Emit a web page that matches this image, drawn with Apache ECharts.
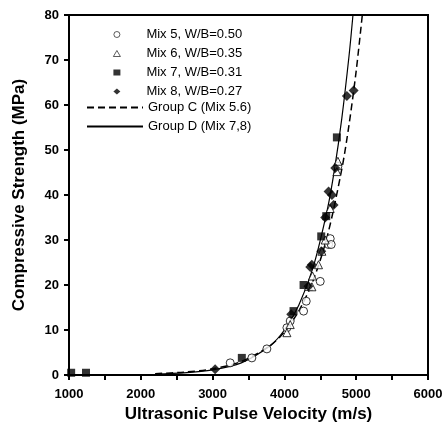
<!DOCTYPE html>
<html>
<head>
<meta charset="utf-8">
<script src="https://cdn.jsdelivr.net/npm/echarts@6/dist/echarts.min.js"></script>
<style>html,body{margin:0;padding:0;background:#fff}#c{width:448px;height:428px}</style>
</head>
<body>
<div id="c"></div>
<script>
// Data
var mix5 = [[3245,2.7],[3547,3.8],[3756,5.8],[4035,10.5],[4081,12],[4267,14.2],[4304,16.4],[4499,20.8],[4615,29],[4638,30.3],[4652,29],[4745,46.4]];
var mix6 = [[4035,9.4],[4081,11.2],[4336,19.7],[4392,22],[4475,24.5],[4522,27.5],[4568,30],[4638,37],[4731,45.2],[4745,47.5],[4383,19.6]];
var mix7 = [[1030,0.5],[1237,0.5],[3407,3.8],[4127,14.2],[4267,20],[4513,30.8],[4583,35.3],[4731,52.8]];
var mix8 = [[3035,1.3],[4095,13.5],[4335,19.7],[4360,24],[4382,24.5],[4513,27.5],[4568,35],[4615,40.8],[4662,40],[4685,37.8],[4708,46],[4870,62],[4964,63.2]];
var groupC = [[2200,0.3],[2600,0.63],[3000,1.37],[3400,3.0],[3800,6.5],[4000,9.6],[4200,14.2],[4400,21],[4600,31],[4800,45.8],[4900,55.6],[5000,67.6],[5085,80]];
var groupD = [[2200,0.2],[2600,0.47],[3000,1.13],[3400,2.7],[3800,6.5],[4000,10],[4200,15.5],[4400,23.9],[4600,36.9],[4700,45.9],[4800,57.1],[4900,70.9],[4955,80]];
var names = ['Mix 5, W/B=0.50','Mix 6, W/B=0.35','Mix 7, W/B=0.31','Mix 8, W/B=0.27','Group C (Mix 5.6)','Group D (Mix 7,8)'];

var font = '"Liberation Sans", Arial, sans-serif';
var chart = echarts.init(document.getElementById('c'), null, {renderer:'canvas'});
chart.setOption({
  animation:false,
  backgroundColor:'#fff',
  grid:{left:69,right:20,top:15,bottom:52,show:true,borderColor:'#000',borderWidth:2,backgroundColor:'transparent'},
  legend:[{
    orient:'vertical', left:108, top:23, itemWidth:7, itemHeight:6, itemGap:6,
    textStyle:{fontFamily:font,fontSize:13,color:'#000',lineHeight:12,padding:[0,0,0,21]},
    itemStyle:{borderWidth:0.8},
    data:[
      {name:names[0],icon:'circle'},
      {name:names[1],icon:'triangle'},
      {name:names[2],icon:'rect'},
      {name:names[3],icon:'diamond'}
    ]
  },{
    orient:'vertical', left:81, top:96, itemWidth:56, itemHeight:6, itemGap:6,
    textStyle:{fontFamily:font,fontSize:13,color:'#000',lineHeight:12},
    itemStyle:{color:'transparent',borderWidth:0},
    data:[names[4],names[5]]
  }],
  xAxis:{
    type:'value', min:1000, max:6000, interval:1000,
    name:'Ultrasonic Pulse Velocity (m/s)', nameLocation:'middle', nameGap:31,
    nameTextStyle:{fontFamily:font,fontSize:17,fontWeight:'bold',color:'#000'},
    axisLine:{lineStyle:{color:'#000',width:2}},
    axisTick:{length:5,lineStyle:{color:'#000',width:2}},
    minorTick:{show:true,splitNumber:2,length:5,lineStyle:{color:'#000',width:2}},
    axisLabel:{fontFamily:font,fontSize:13,fontWeight:'bold',color:'#000',margin:13,formatter:function(v){return String(v);}},
    splitLine:{show:false}
  },
  yAxis:{
    type:'value', min:0, max:80, interval:10,
    name:'Compressive Strength (MPa)', nameLocation:'middle', nameGap:41,
    nameTextStyle:{fontFamily:font,fontSize:17,fontWeight:'bold',color:'#000'},
    axisLine:{lineStyle:{color:'#000',width:2}},
    axisTick:{length:5,lineStyle:{color:'#000',width:2}},
    axisLabel:{fontFamily:font,fontSize:13,fontWeight:'bold',color:'#000',margin:10,formatter:function(v){return String(v);}},
    splitLine:{show:false}
  },
  series:[
    {name:names[4],type:'line',data:groupC,smooth:0.3,symbol:'none',lineStyle:{color:'#000',width:1.5,type:[7,4]},itemStyle:{color:'#000'},z:1},
    {name:names[5],type:'line',data:groupD,smooth:0.3,symbol:'none',lineStyle:{color:'#000',width:1.2},itemStyle:{color:'#000'},z:1},
    {name:names[0],type:'scatter',data:mix5,symbol:'circle',symbolSize:8,itemStyle:{color:'#fff',borderColor:'#000',borderWidth:1},z:3},
    {name:names[1],type:'scatter',data:mix6,symbol:'triangle',symbolSize:8,itemStyle:{color:'#fff',borderColor:'#000',borderWidth:1},z:3},
    {name:names[2],type:'scatter',data:mix7,symbol:'rect',symbolSize:8,itemStyle:{color:'#000'},z:4},
    {name:names[3],type:'scatter',data:mix8,symbol:'diamond',symbolSize:10,itemStyle:{color:'#000'},z:4}
  ]
});
</script>
</body>
</html>
